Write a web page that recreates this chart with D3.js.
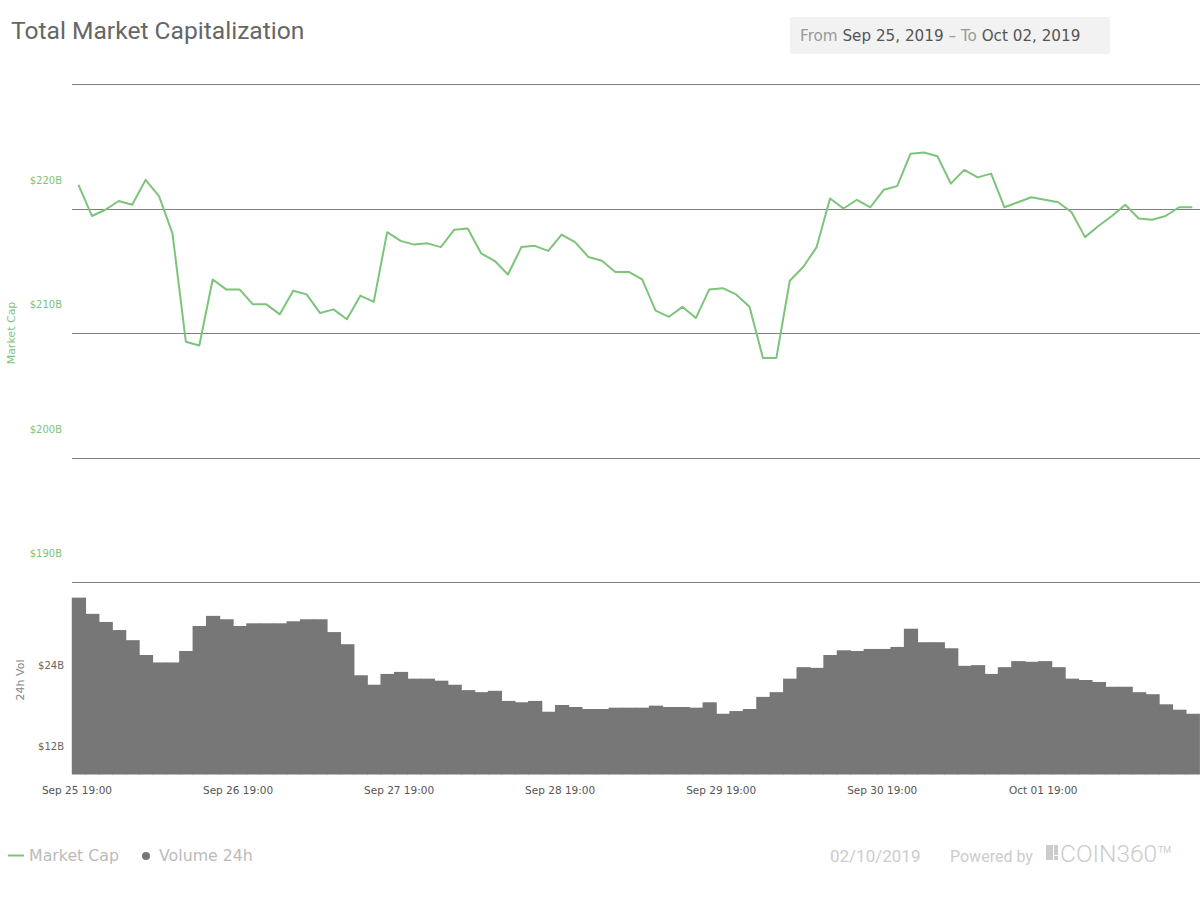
<!DOCTYPE html>
<html>
<head>
<meta charset="utf-8">
<script src="https://cdnjs.cloudflare.com/ajax/libs/d3/7.8.5/d3.min.js"></script>
<style>
  html, body { margin: 0; padding: 0; background: #fff; }
  svg { display: block; }
</style>
</head>
<body>
<script>
// 2-hourly samples, Sep 25 19:00 -> Oct 02 17:00
var startTime = "2019-09-25T19:00";
var stepHours = 2;

// total market cap, $B
var marketCap = [
  221.9, 219.4, 219.9, 220.6, 220.3, 222.3, 221.0, 218.0, 209.3, 209.0,
  214.3, 213.5, 213.5, 212.3, 212.3, 211.5, 213.4, 213.1, 211.6, 211.9,
  211.1, 213.0, 212.5, 218.1, 217.4, 217.1, 217.2, 216.9, 218.3, 218.4,
  216.4, 215.8, 214.7, 216.9, 217.0, 216.6, 217.9, 217.3, 216.1, 215.8,
  214.9, 214.9, 214.3, 211.8, 211.3, 212.1, 211.2, 213.5, 213.6, 213.1,
  212.1, 208.0, 208.0, 214.2, 215.3, 216.9, 220.8, 220.0, 220.7, 220.1,
  221.5, 221.8, 224.4, 224.5, 224.2, 222.0, 223.1, 222.5, 222.8, 220.1,
  220.5, 220.9, 220.7, 220.5, 219.7, 217.7, 218.6, 219.4, 220.3, 219.2,
  219.1, 219.4, 220.1, 220.1
];

// 24h volume, $B
var volume24h = [
  38.2, 35.8, 34.6, 33.4, 31.9, 29.7, 28.6, 28.6, 30.3, 34.0,
  35.5, 35.0, 34.0, 34.4, 34.4, 34.4, 34.7, 35.0, 35.0, 33.1,
  31.3, 26.7, 25.3, 26.9, 27.2, 26.2, 26.2, 25.9, 25.3, 24.5,
  24.2, 24.4, 22.9, 22.7, 22.9, 21.3, 22.3, 22.0, 21.7, 21.7,
  21.9, 21.9, 21.9, 22.2, 22.0, 22.0, 21.9, 22.7, 21.0, 21.4,
  21.7, 23.5, 24.2, 26.2, 27.9, 27.8, 29.7, 30.4, 30.3, 30.6,
  30.6, 30.9, 33.6, 31.6, 31.6, 30.7, 28.1, 28.2, 26.9, 27.9,
  28.8, 28.7, 28.8, 27.9, 26.2, 26.0, 25.7, 25.0, 25.0, 24.2,
  23.9, 22.4, 21.6, 21.0
];

var capTicks = [230, 220, 210, 200, 190];
var volTicks = [12, 24];
var xTicks = ["2019-09-25T19:00", "2019-09-26T19:00", "2019-09-27T19:00",
              "2019-09-28T19:00", "2019-09-29T19:00", "2019-09-30T19:00",
              "2019-10-01T19:00"];

var parse = d3.timeParse("%Y-%m-%dT%H:%M");
var t0 = parse(startTime);
var times = marketCap.map(function (d, i) { return d3.timeHour.offset(t0, i * stepHours); });

var W = 1200, H = 900;
var green = "#7dc47b", grey = "#777";

var svg = d3.select("body").append("svg").attr("width", W).attr("height", H);

var x = d3.scaleTime().domain([times[0], times[times.length - 1]]).range([78.5, 1192.4]);
var yCap = d3.scaleLinear().domain([190, 230]).range([582, 84]);
var yVol = d3.scaleLinear().domain([12, 12 + (774.5 - 582) / 6.75]).range([774.5, 582]);

// title
svg.append("text").attr("x", 11).attr("y", 39)
   .style("font-family", "Roboto").style("font-size", "24.6px").style("fill", "#666")
   .text("Total Market Capitalization");

// date range box
svg.append("rect").attr("x", 790).attr("y", 17).attr("width", 320).attr("height", 37)
   .attr("rx", 2).style("fill", "#f2f2f2");
var dr = svg.append("text").attr("x", 800).attr("y", 41)
   .style("font-family", "DejaVu Sans").style("font-size", "15.2px");
dr.append("tspan").style("fill", "#999").text("From ");
dr.append("tspan").style("fill", "#555").text("Sep 25, 2019");
dr.append("tspan").style("fill", "#999").text(" \u2013 To ");
dr.append("tspan").style("fill", "#555").text("Oct 02, 2019");

// gridlines
svg.append("g").selectAll("line").data(capTicks).enter().append("line")
   .attr("x1", 72).attr("x2", W)
   .attr("y1", function (d) { return Math.round(yCap(d)) + 0.5; })
   .attr("y2", function (d) { return Math.round(yCap(d)) + 0.5; })
   .style("stroke", "#7f7f7f").style("stroke-width", 1);

// cap axis labels (drawn above their lines)
svg.append("g").selectAll("text").data(capTicks.slice(1)).enter().append("text")
   .attr("x", 62).attr("y", function (d) { return yCap(d) - 25; })
   .attr("text-anchor", "end")
   .style("font-family", "DejaVu Sans").style("font-size", "10px").style("fill", green)
   .text(function (d) { return "$" + d + "B"; });

svg.append("text").attr("transform", "translate(15,333) rotate(-90)")
   .attr("text-anchor", "middle")
   .style("font-family", "DejaVu Sans").style("font-size", "11px").style("fill", green)
   .text("Market Cap");

// volume bars
var bw = x(times[1]) - x(times[0]);
svg.append("g").selectAll("rect").data(volume24h).enter().append("rect")
   .attr("x", function (d, i) { return x(times[i]) - bw / 2; })
   .attr("width", bw + 0.8)
   .attr("y", function (d) { return yVol(d); })
   .attr("height", function (d) { return yVol(12) - yVol(d); })
   .style("fill", grey);

svg.append("g").selectAll("text").data(volTicks).enter().append("text")
   .attr("x", 64).attr("y", function (d) { return yVol(d) - 25; })
   .attr("text-anchor", "end")
   .style("font-family", "DejaVu Sans").style("font-size", "10px").style("fill", "#666")
   .text(function (d) { return "$" + d + "B"; });

svg.append("text").attr("transform", "translate(24,680) rotate(-90)")
   .attr("text-anchor", "middle")
   .style("font-family", "DejaVu Sans").style("font-size", "11px").style("fill", "#888")
   .text("24h Vol");

// market cap line
var line = d3.line()
   .x(function (d, i) { return x(times[i]); })
   .y(function (d) { return yCap(d); });
svg.append("path").datum(marketCap).attr("d", line)
   .style("fill", "none").style("stroke", green).style("stroke-width", 2)
   .style("stroke-linejoin", "round");

// x axis
var fmt = d3.timeFormat("%b %d %H:%M");
svg.append("g").selectAll("text").data(xTicks.map(parse)).enter().append("text")
   .attr("x", function (d) { return x(d) - 1.5; }).attr("y", 794)
   .attr("text-anchor", "middle")
   .style("font-family", "DejaVu Sans").style("font-size", "10.5px").style("fill", "#555")
   .text(function (d) { return fmt(d); });

// legend
svg.append("line").attr("x1", 8).attr("x2", 24).attr("y1", 855.5).attr("y2", 855.5)
   .style("stroke", green).style("stroke-width", 2);
svg.append("text").attr("x", 29).attr("y", 861)
   .style("font-family", "DejaVu Sans").style("font-size", "15.8px").style("fill", "#bbb")
   .text("Market Cap");
svg.append("circle").attr("cx", 146).attr("cy", 856).attr("r", 4).style("fill", grey);
svg.append("text").attr("x", 159).attr("y", 861)
   .style("font-family", "DejaVu Sans").style("font-size", "15.8px").style("fill", "#bbb")
   .text("Volume 24h");

// footer
svg.append("text").attr("x", 830).attr("y", 862)
   .style("font-family", "Roboto").style("font-size", "17px").style("fill", "#ccc")
   .text("02/10/2019");
svg.append("text").attr("x", 950).attr("y", 862)
   .style("font-family", "Roboto").style("font-size", "16px").style("fill", "#ccc")
   .text("Powered by");
svg.append("rect").attr("x", 1046).attr("y", 845).attr("width", 7).attr("height", 15).style("fill", "#ccc");
svg.append("rect").attr("x", 1054).attr("y", 845).attr("width", 4).attr("height", 10).style("fill", "#ccc");
svg.append("rect").attr("x", 1054).attr("y", 856).attr("width", 4).attr("height", 4).style("fill", "#ccc");
svg.append("text").attr("x", 1060).attr("y", 862)
   .style("font-family", "Roboto").style("font-weight", 300).style("font-size", "24.5px").style("fill", "#ccc")
   .text("COIN360");
svg.append("text").attr("x", 1158).attr("y", 853)
   .style("font-family", "Roboto").style("font-size", "9px").style("fill", "#ccc")
   .text("TM");
</script>
</body>
</html>
